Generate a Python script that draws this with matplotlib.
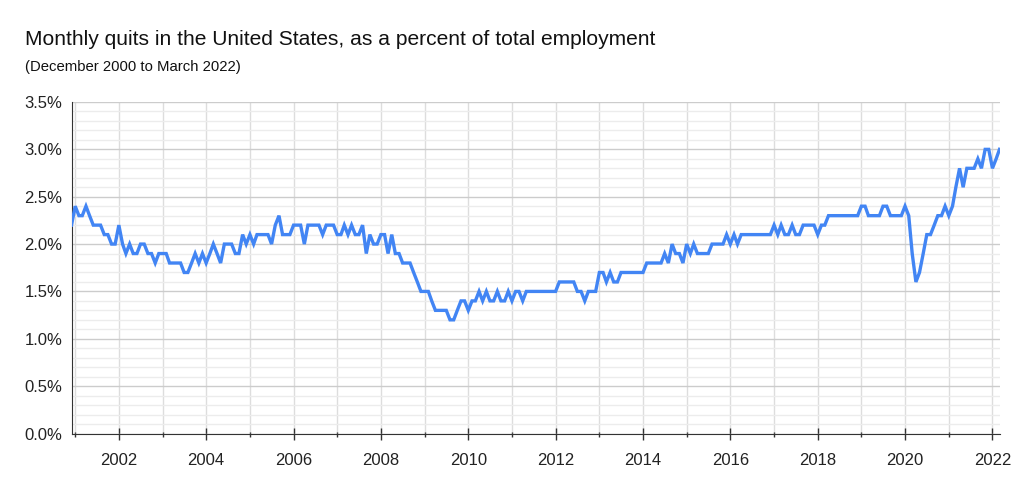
import matplotlib
matplotlib.use("Agg")
import matplotlib.pyplot as plt
import matplotlib.dates as mdates
import matplotlib.ticker as mticker
import pandas as pd

title = "Monthly quits in the United States, as a percent of total employment"
subtitle = "(December 2000 to March 2022)"

# quits rate (%)
start_month = "2000-12-01"
quits_2000 = [2.2]
quits_2001 = [2.4, 2.3, 2.3, 2.4, 2.3, 2.2, 2.2, 2.2, 2.1, 2.1, 2.0, 2.0]
quits_2002 = [2.2, 2.0, 1.9, 2.0, 1.9, 1.9, 2.0, 2.0, 1.9, 1.9, 1.8, 1.9]
quits_2003 = [1.9, 1.9, 1.8, 1.8, 1.8, 1.8, 1.7, 1.7, 1.8, 1.9, 1.8, 1.9]
quits_2004 = [1.8, 1.9, 2.0, 1.9, 1.8, 2.0, 2.0, 2.0, 1.9, 1.9, 2.1, 2.0]
quits_2005 = [2.1, 2.0, 2.1, 2.1, 2.1, 2.1, 2.0, 2.2, 2.3, 2.1, 2.1, 2.1]
quits_2006 = [2.2, 2.2, 2.2, 2.0, 2.2, 2.2, 2.2, 2.2, 2.1, 2.2, 2.2, 2.2]
quits_2007 = [2.1, 2.1, 2.2, 2.1, 2.2, 2.1, 2.1, 2.2, 1.9, 2.1, 2.0, 2.0]
quits_2008 = [2.1, 2.1, 1.9, 2.1, 1.9, 1.9, 1.8, 1.8, 1.8, 1.7, 1.6, 1.5]
quits_2009 = [1.5, 1.5, 1.4, 1.3, 1.3, 1.3, 1.3, 1.2, 1.2, 1.3, 1.4, 1.4]
quits_2010 = [1.3, 1.4, 1.4, 1.5, 1.4, 1.5, 1.4, 1.4, 1.5, 1.4, 1.4, 1.5]
quits_2011 = [1.4, 1.5, 1.5, 1.4, 1.5, 1.5, 1.5, 1.5, 1.5, 1.5, 1.5, 1.5]
quits_2012 = [1.5, 1.6, 1.6, 1.6, 1.6, 1.6, 1.5, 1.5, 1.4, 1.5, 1.5, 1.5]
quits_2013 = [1.7, 1.7, 1.6, 1.7, 1.6, 1.6, 1.7, 1.7, 1.7, 1.7, 1.7, 1.7]
quits_2014 = [1.7, 1.8, 1.8, 1.8, 1.8, 1.8, 1.9, 1.8, 2.0, 1.9, 1.9, 1.8]
quits_2015 = [2.0, 1.9, 2.0, 1.9, 1.9, 1.9, 1.9, 2.0, 2.0, 2.0, 2.0, 2.1]
quits_2016 = [2.0, 2.1, 2.0, 2.1, 2.1, 2.1, 2.1, 2.1, 2.1, 2.1, 2.1, 2.1]
quits_2017 = [2.2, 2.1, 2.2, 2.1, 2.1, 2.2, 2.1, 2.1, 2.2, 2.2, 2.2, 2.2]
quits_2018 = [2.1, 2.2, 2.2, 2.3, 2.3, 2.3, 2.3, 2.3, 2.3, 2.3, 2.3, 2.3]
quits_2019 = [2.4, 2.4, 2.3, 2.3, 2.3, 2.3, 2.4, 2.4, 2.3, 2.3, 2.3, 2.3]
quits_2020 = [2.4, 2.3, 1.9, 1.6, 1.7, 1.9, 2.1, 2.1, 2.2, 2.3, 2.3, 2.4]
quits_2021 = [2.3, 2.4, 2.6, 2.8, 2.6, 2.8, 2.8, 2.8, 2.9, 2.8, 3.0, 3.0]
quits_2022 = [2.8, 2.9, 3.0]

quits = (quits_2000 + quits_2001 + quits_2002 + quits_2003 + quits_2004
         + quits_2005 + quits_2006 + quits_2007 + quits_2008 + quits_2009
         + quits_2010 + quits_2011 + quits_2012 + quits_2013 + quits_2014
         + quits_2015 + quits_2016 + quits_2017 + quits_2018 + quits_2019
         + quits_2020 + quits_2021 + quits_2022)
months = pd.date_range(start_month, periods=len(quits), freq="MS")

y_ticks = [0.0, 0.5, 1.0, 1.5, 2.0, 2.5, 3.0, 3.5]

plt.rcParams['font.family'] = ['Liberation Sans', 'DejaVu Sans']

fig = plt.figure(figsize=(10.24, 4.94), dpi=100)
ax = fig.add_axes([71.5/1024, 1 - 433.5/494, 928/1024, 331.5/494])

ax.plot(months, quits, color="#4285F4", lw=2.4, solid_joinstyle="miter", zorder=3)

ax.set_xlim(months[0], months[-1])
ax.set_ylim(y_ticks[0], y_ticks[-1])

ax.xaxis.set_major_locator(mdates.YearLocator(2))
ax.xaxis.set_minor_locator(mdates.YearLocator(1))
ax.xaxis.set_major_formatter(mdates.DateFormatter("%Y"))
ax.set_yticks(y_ticks)
ax.yaxis.set_minor_locator(mticker.MultipleLocator(0.1))
ax.yaxis.set_major_formatter(mticker.FuncFormatter(lambda v, p: f"{v:.1f}%"))

ax.grid(which="both", axis="x", color="#dddddd", lw=1)
ax.grid(which="major", axis="y", color="#cccccc", lw=1)
ax.grid(which="minor", axis="y", color="#ececec", lw=1)
ax.set_axisbelow(True)

for s in ["top", "right"]:
    ax.spines[s].set_visible(False)
ax.spines["left"].set_color("#333333")
ax.spines["bottom"].set_color("#333333")

ax.tick_params(axis="x", which="major", direction="inout", length=8.6, width=1,
               color="#333333", pad=10, labelsize=12, labelcolor="#222222")
ax.tick_params(axis="x", which="minor", direction="inout", length=3.6, width=1,
               color="#333333")
ax.tick_params(axis="y", which="both", length=0, pad=6.5, labelsize=12,
               labelcolor="#222222")

fig.text(25/1024, 1 - 45/494, title, fontsize=15.1, color="#111111", va="baseline")
fig.text(25/1024, 1 - 71/494, subtitle, fontsize=10.7, color="#111111", va="baseline")

fig.savefig("out.png", dpi=100)
